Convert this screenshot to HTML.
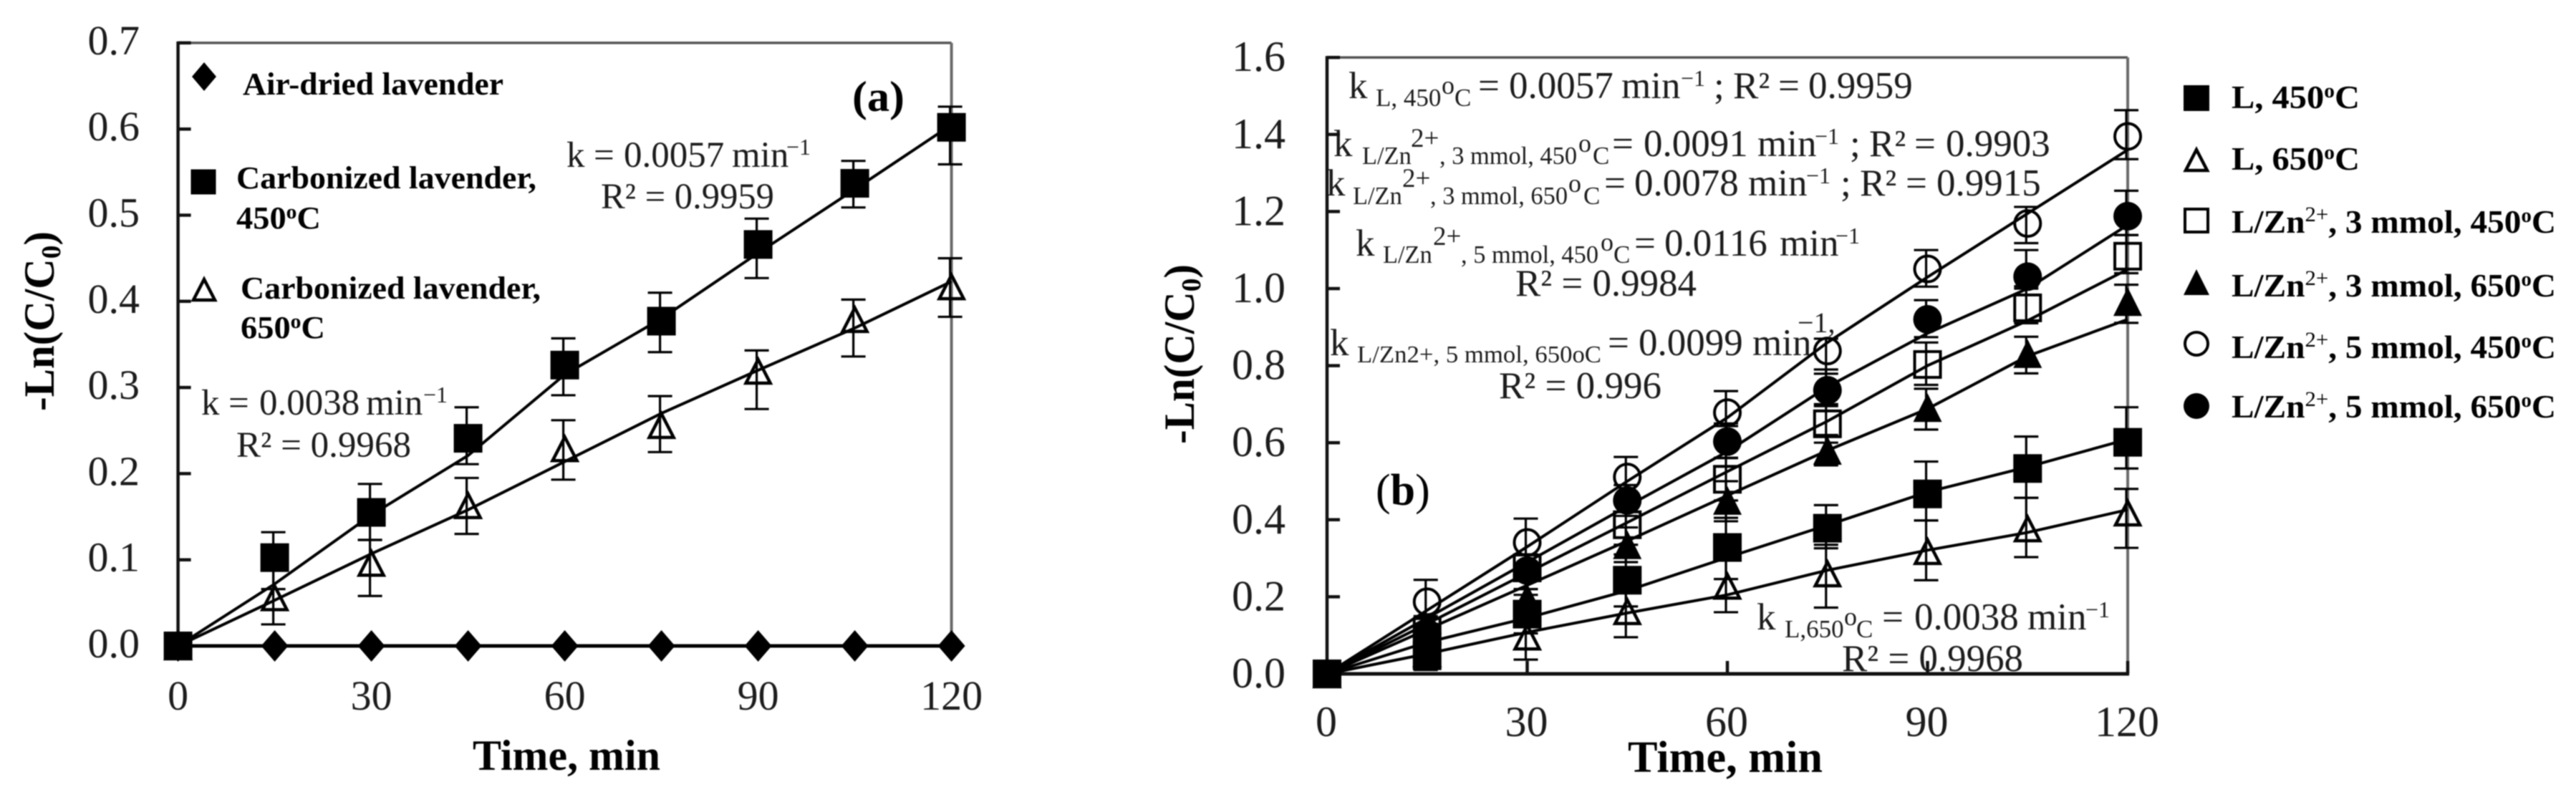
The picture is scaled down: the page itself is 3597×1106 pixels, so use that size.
<!DOCTYPE html>
<html lang="en">
<head>
<meta charset="utf-8">
<title>Kinetic plots of -Ln(C/C0) versus time</title>
<style>
html,body{margin:0;padding:0;background:#fff;width:3597px;height:1106px;overflow:hidden}
svg{display:block;filter:blur(0.9px)}
text{font-family:"Liberation Serif","Times New Roman",serif;fill:#1c1c1c;white-space:pre}
.b{font-weight:bold;fill:#000}
.s{font-size:34px}
.o{font-size:36px}
.c{font-size:35px}
.t{font-size:34.4px}
.u{font-size:37px}
.x{font-size:32px}
</style>
</head>
<body>
<svg id="figure" xmlns="http://www.w3.org/2000/svg" width="3597" height="1106" viewBox="0 0 3597 1106">
<rect x="0" y="0" width="3597" height="1106" fill="#fff"/>

<g>
  <text class="b" font-size="60" transform="translate(75,574) rotate(-90)" textLength="251" lengthAdjust="spacingAndGlyphs">-Ln(C/C<tspan font-size="38" dy="9">0</tspan><tspan dy="-9">)</tspan></text>
  <text class="b" font-size="60" x="660" y="1075" textLength="262" lengthAdjust="spacingAndGlyphs">Time, min</text>
  <text class="b" font-size="60" x="1190" y="155" textLength="73" lengthAdjust="spacingAndGlyphs">(a)</text>
  <text class="b" font-size="44" x="339" y="132" textLength="364" lengthAdjust="spacingAndGlyphs">Air-dried lavender</text>
  <text class="b" font-size="44" x="330" y="263" textLength="419" lengthAdjust="spacingAndGlyphs">Carbonized lavender,</text>
  <text class="b" font-size="44" x="330" y="319" textLength="118" lengthAdjust="spacingAndGlyphs">450<tspan font-size="28" dy="-14">o</tspan><tspan dy="14">C</tspan></text>
  <text class="b" font-size="44" x="336" y="417" textLength="419" lengthAdjust="spacingAndGlyphs">Carbonized lavender,</text>
  <text class="b" font-size="44" x="336" y="472" textLength="118" lengthAdjust="spacingAndGlyphs">650<tspan font-size="28" dy="-14">o</tspan><tspan dy="14">C</tspan></text>
  <text font-size="51" x="791" y="233">k<tspan x="829">=</tspan><tspan x="871">0.0057</tspan><tspan x="1022">min</tspan><tspan class="x" x="1098" y="216">−1</tspan></text>
  <text font-size="51" x="839" y="291" textLength="242" lengthAdjust="spacingAndGlyphs">R² = 0.9959</text>
  <text font-size="51" x="281" y="579">k<tspan x="319">=</tspan><tspan x="362">0.0038</tspan><tspan x="511">min</tspan><tspan class="x" x="591" y="562">−1</tspan></text>
  <text font-size="51" x="330" y="638" textLength="244" lengthAdjust="spacingAndGlyphs">R² = 0.9968</text>
</g>

<g>
  <text class="b" font-size="60" transform="translate(1667,620) rotate(-90)" textLength="251" lengthAdjust="spacingAndGlyphs">-Ln(C/C<tspan font-size="38" dy="9">0</tspan><tspan dy="-9">)</tspan></text>
  <text class="b" font-size="62" x="2273" y="1078" textLength="272" lengthAdjust="spacingAndGlyphs">Time, min</text>
  <text class="b" font-size="62" x="1921" y="705"><tspan font-weight="normal">(</tspan>b<tspan font-weight="normal">)</tspan></text>

  <text font-size="53" x="1883" y="137">k<tspan class="c" x="1921" y="148">L, 450</tspan><tspan class="o" x="2013" y="131">o</tspan><tspan class="c" x="2031" y="148">C</tspan><tspan x="2064" y="137">=</tspan><tspan x="2107">0.0057</tspan><tspan x="2264">min</tspan><tspan class="x" x="2347" y="120">−1</tspan><tspan x="2393" y="137">;</tspan><tspan x="2420">R²</tspan><tspan x="2483">=</tspan><tspan x="2525">0.9959</tspan></text>

  <text font-size="53" x="1862" y="218">k<tspan class="t" x="1902" y="229">L/Zn</tspan><tspan class="u" x="1970" y="205">2+</tspan><tspan class="t" x="2010" y="229">, 3 mmol, 450</tspan><tspan class="o" x="2204" y="212">o</tspan><tspan class="c" x="2224" y="229">C</tspan><tspan x="2251" y="218">=</tspan><tspan x="2295">0.0091</tspan><tspan x="2454">min</tspan><tspan class="x" x="2534" y="201">−1</tspan><tspan x="2583" y="218">;</tspan><tspan x="2610">R²</tspan><tspan x="2673">=</tspan><tspan x="2717">0.9903</tspan></text>

  <text font-size="53" x="1852" y="273">k<tspan class="t" x="1889" y="285">L/Zn</tspan><tspan class="u" x="1958" y="261">2+</tspan><tspan class="t" x="1997" y="285">, 3 mmol, 650</tspan><tspan class="o" x="2190" y="268">o</tspan><tspan class="c" x="2211" y="285">C</tspan><tspan x="2240" y="273">=</tspan><tspan x="2282">0.0078</tspan><tspan x="2441">min</tspan><tspan class="x" x="2522" y="256">−1</tspan><tspan x="2570" y="273">;</tspan><tspan x="2597">R²</tspan><tspan x="2661">=</tspan><tspan x="2704">0.9915</tspan></text>

  <text font-size="53" x="1893" y="357">k<tspan class="t" x="1931" y="367">L/Zn</tspan><tspan class="u" x="2001" y="342">2+</tspan><tspan class="t" x="2040" y="367">, 5 mmol, 450</tspan><tspan class="o" x="2235" y="350">o</tspan><tspan class="c" x="2253" y="367">C</tspan><tspan x="2282" y="357">=</tspan><tspan x="2324">0.0116</tspan><tspan x="2485">min</tspan><tspan class="x" x="2563" y="340">−1</tspan></text>
  <text font-size="53" x="2116" y="413" textLength="253" lengthAdjust="spacingAndGlyphs">R² = 0.9984</text>

  <text font-size="53" x="1857" y="496">k<tspan class="s" x="1895" y="506" textLength="341" lengthAdjust="spacingAndGlyphs">L/Zn2+, 5 mmol, 650oC</tspan><tspan x="2245" y="496">=</tspan><tspan x="2288">0.0099</tspan><tspan x="2447">min</tspan></text>
  <text font-size="40" x="2510" y="464">−1,</text>
  <text font-size="53" x="2093" y="556" textLength="227" lengthAdjust="spacingAndGlyphs">R² = 0.996</text>

  <text font-size="53" x="2453" y="879">k<tspan class="c" x="2492" y="890">L,650</tspan><tspan class="o" x="2575" y="873">o</tspan><tspan class="c" x="2592" y="890">C</tspan><tspan x="2628" y="879">=</tspan><tspan x="2673">0.0038</tspan><tspan x="2831">min</tspan><tspan class="x" x="2912" y="862">−1</tspan></text>
  <text font-size="53" x="2572" y="937" textLength="253" lengthAdjust="spacingAndGlyphs">R² = 0.9968</text>

  <text class="b" font-size="46" x="3116" y="151" textLength="179" lengthAdjust="spacingAndGlyphs">L, 450<tspan font-size="28" dy="-15">o</tspan><tspan dy="15">C</tspan></text>
  <text class="b" font-size="46" x="3116" y="237" textLength="179" lengthAdjust="spacingAndGlyphs">L, 650<tspan font-size="28" dy="-15">o</tspan><tspan dy="15">C</tspan></text>
  <text class="b" font-size="46" x="3116" y="325" textLength="453" lengthAdjust="spacingAndGlyphs">L/Zn<tspan font-size="30" dy="-16" font-weight="normal">2+</tspan><tspan dy="16">, 3 mmol, 450</tspan><tspan font-size="28" dy="-15">o</tspan><tspan dy="15">C</tspan></text>
  <text class="b" font-size="46" x="3116" y="414" textLength="453" lengthAdjust="spacingAndGlyphs">L/Zn<tspan font-size="30" dy="-16" font-weight="normal">2+</tspan><tspan dy="16">, 3 mmol, 650</tspan><tspan font-size="28" dy="-15">o</tspan><tspan dy="15">C</tspan></text>
  <text class="b" font-size="46" x="3116" y="500" textLength="453" lengthAdjust="spacingAndGlyphs">L/Zn<tspan font-size="30" dy="-16" font-weight="normal">2+</tspan><tspan dy="16">, 5 mmol, 450</tspan><tspan font-size="28" dy="-15">o</tspan><tspan dy="15">C</tspan></text>
  <text class="b" font-size="46" x="3116" y="583" textLength="453" lengthAdjust="spacingAndGlyphs">L/Zn<tspan font-size="30" dy="-16" font-weight="normal">2+</tspan><tspan dy="16">, 5 mmol, 650</tspan><tspan font-size="28" dy="-15">o</tspan><tspan dy="15">C</tspan></text>
</g>

<g id="chart-a"></g>
<g id="chart-b"></g>
<g id="legend-a"></g>
<g id="legend-b"></g>
</svg>

<script>
/* shared categories */
const times = [0, 15, 30, 45, 60, 75, 90, 105, 120];
const xTickValues = [0, 30, 60, 90, 120];

/* chart (a) */
const yTicksA = [0, 0.1, 0.2, 0.3, 0.4, 0.5, 0.6, 0.7];
const airDried = [0, 0, 0, 0, 0, 0, 0, 0, 0];
const a450 = [0, 0.1025, 0.155, 0.241, 0.326, 0.377, 0.466, 0.537, 0.602];
const a450Upper = [0, 0.132, 0.188, 0.277, 0.357, 0.41, 0.496, 0.563, 0.626];
const a450Lower = [0, 0.066, 0.123, 0.211, 0.291, 0.341, 0.427, 0.509, 0.559];
const a450Fit = [0, 0.072, 0.152, 0.221, 0.315, 0.38, 0.456, 0.53, 0.605];
const a650 = [0, 0.057, 0.097, 0.164, 0.23, 0.257, 0.32, 0.38, 0.418];
const a650Upper = [0, 0.09, 0.123, 0.195, 0.262, 0.29, 0.343, 0.402, 0.45];
const a650Lower = [0, 0.025, 0.058, 0.13, 0.193, 0.225, 0.275, 0.336, 0.382];
const a650Fit = [0, 0.053, 0.107, 0.158, 0.214, 0.27, 0.32, 0.369, 0.423];

/* chart (b) */
const yTicksB = [0, 0.2, 0.4, 0.6, 0.8, 1.0, 1.2, 1.4, 1.6];
const b450 = [0, 0.047, 0.155, 0.243, 0.328, 0.378, 0.467, 0.533, 0.601];
const b450Upper = [0, 0.1, 0.205, 0.31, 0.405, 0.438, 0.551, 0.616, 0.692];
const b450Lower = [0, 0.01, 0.105, 0.175, 0.246, 0.326, 0.398, 0.457, 0.533];
const b450Fit = [0, 0.082, 0.145, 0.216, 0.302, 0.386, 0.472, 0.537, 0.609];
const b650 = [0, 0.055, 0.098, 0.164, 0.23, 0.262, 0.32, 0.379, 0.42];
const b650Upper = [0, 0.085, 0.15, 0.235, 0.31, 0.335, 0.398, 0.457, 0.48];
const b650Lower = [0, 0.03, 0.037, 0.095, 0.16, 0.172, 0.243, 0.303, 0.327];
const b650Fit = [0, 0.052, 0.108, 0.158, 0.205, 0.269, 0.321, 0.367, 0.426];
const b3m450 = [0, 0.11, 0.275, 0.387, 0.505, 0.649, 0.803, 0.95, 1.084];
const b3m450Upper = [0, 0.15, 0.31, 0.44, 0.56, 0.7, 0.86, 1.0, 1.139];
const b3m450Lower = [0, 0.09, 0.22, 0.335, 0.45, 0.6, 0.75, 0.91, 1.04];
const b3m450Fit = [0, 0.13, 0.262, 0.393, 0.525, 0.656, 0.8, 0.917, 1.05];
const b3m650 = [0, 0.085, 0.197, 0.335, 0.45, 0.58, 0.691, 0.831, 0.966];
const b3m650Upper = [0, 0.12, 0.26, 0.38, 0.5, 0.62, 0.74, 0.875, 1.01];
const b3m650Lower = [0, 0.05, 0.17, 0.29, 0.396, 0.541, 0.634, 0.78, 0.911];
const b3m650Fit = [0, 0.115, 0.23, 0.345, 0.463, 0.58, 0.688, 0.825, 0.92];
const b5m450 = [0, 0.187, 0.341, 0.511, 0.678, 0.838, 1.051, 1.169, 1.395];
const b5m450Upper = [0, 0.244, 0.403, 0.563, 0.734, 0.87, 1.1, 1.212, 1.463];
const b5m450Lower = [0, 0.13, 0.28, 0.46, 0.643, 0.779, 1.005, 1.118, 1.336];
const b5m450Fit = [0, 0.165, 0.33, 0.5, 0.665, 0.86, 1.03, 1.195, 1.36];
const b5m650 = [0, 0.105, 0.268, 0.45, 0.603, 0.736, 0.92, 1.031, 1.188];
const b5m650Upper = [0, 0.145, 0.31, 0.49, 0.65, 0.79, 0.97, 1.1, 1.254];
const b5m650Lower = [0, 0.07, 0.22, 0.41, 0.561, 0.695, 0.874, 1.006, 1.139];
const b5m650Fit = [0, 0.145, 0.29, 0.435, 0.577, 0.745, 0.884, 1.0, 1.165];

const NS = 'http://www.w3.org/2000/svg';

function make(parent, tag, attrs) {
  const e = document.createElementNS(NS, tag);
  for (const k in attrs) e.setAttribute(k, attrs[k]);
  parent.appendChild(e);
  return e;
}

/* axis functions */
const axA = t => 248.6 + t * 9.0;
const ayA = v => 902 - v * 1203;
const axB = t => 1853 + t * 9.317;
const ayB = v => 941 - v * 538;

function drawMarker(parent, shape, x, y, r) {
  let m;
  if (shape === 'square') {
    m = make(parent, 'rect', {x: x - r, y: y - r, width: 2 * r, height: 2 * r, fill: '#000'});
  } else if (shape === 'open-square') {
    m = make(parent, 'rect', {x: x - r + 2, y: y - r + 2, width: 2 * r - 4, height: 2 * r - 4, fill: 'none', stroke: '#000', 'stroke-width': 4});
  } else if (shape === 'circle') {
    m = make(parent, 'circle', {cx: x, cy: y, r: r, fill: '#000'});
  } else if (shape === 'open-circle') {
    m = make(parent, 'circle', {cx: x, cy: y, r: r - 2, fill: 'none', stroke: '#000', 'stroke-width': 4});
  } else if (shape === 'triangle') {
    m = make(parent, 'polygon', {points: (x) + ',' + (y - r) + ' ' + (x + r) + ',' + (y + r) + ' ' + (x - r) + ',' + (y + r), fill: '#000'});
  } else if (shape === 'open-triangle') {
    m = make(parent, 'polygon', {points: (x) + ',' + (y - r + 5) + ' ' + (x + r - 3) + ',' + (y + r - 2) + ' ' + (x - r + 3) + ',' + (y + r - 2), fill: 'none', stroke: '#000', 'stroke-width': 4.5});
  } else {
    m = make(parent, 'polygon', {points: x + ',' + (y - r - 2) + ' ' + (x + r - 1) + ',' + y + ' ' + x + ',' + (y + r + 2) + ' ' + (x - r + 1) + ',' + y, fill: '#000'});
  }
  return m;
}

function drawAxes(root, ax, ay, yTicks, xMaxT, yMax, yLabelX, yLabelDy, xLabelBase, xLabelShift, labelSize) {
  const left = ax(0), right = ax(xMaxT), top = ay(yMax), bottom = ay(0);
  const frameTop = make(root, 'line', {x1: left, y1: top, x2: right, y2: top, stroke: '#555', 'stroke-width': 3.5});
  
  
  const frameRight = make(root, 'line', {x1: right, y1: top, x2: right, y2: bottom, stroke: '#6a6a6a', 'stroke-width': 4});
  
  
  const yAxis = make(root, 'line', {x1: left, y1: top - 2, x2: left, y2: bottom, stroke: '#111', 'stroke-width': 4.5});
  
  
  const xAxis = make(root, 'line', {x1: left, y1: bottom, x2: right + 2, y2: bottom, stroke: '#111', 'stroke-width': 5});
  
  
  yTicks.forEach(function (v) {
    const tick = make(root, 'line', {x1: left, y1: ay(v), x2: left + 18, y2: ay(v), stroke: '#111', 'stroke-width': 4.5});
    
    
    const label = make(root, 'text', {x: yLabelX, y: ay(v) + yLabelDy, 'text-anchor': 'end', 'font-size': labelSize});
    
    
    label.textContent = v.toFixed(1);
  });
  xTickValues.forEach(function (t) {
    const tick = make(root, 'line', {x1: ax(t), y1: bottom, x2: ax(t), y2: bottom - 18, stroke: '#111', 'stroke-width': 4.5});
    
    
    const label = make(root, 'text', {x: ax(t) + xLabelShift, y: xLabelBase, 'text-anchor': 'middle', 'font-size': labelSize});
    
    
    label.textContent = String(t);
  });
}

function fitPath(ax, ay, fit) {
  return fit.map(function (v, i) { return (i ? 'L' : 'M') + ax(times[i]).toFixed(1) + ' ' + ay(v).toFixed(1); }).join(' ');
}

function drawLinesAndErrors(root, ax, ay, fit, upper, lower) {
  const g = make(root, 'g', {});
  
  
  const path = make(g, 'path', {d: fitPath(ax, ay, fit), fill: 'none', stroke: '#000', 'stroke-width': 4});
  
  
  if (!upper) return;
  times.forEach(function (t, i) {
    if (t === 0) return;
    const x = ax(t) - 2;
    const d = 'M' + x + ' ' + ay(upper[i]) + ' V' + ay(lower[i]) +
      ' M' + (x - 17) + ' ' + ay(upper[i]) + ' H' + (x + 17) +
      ' M' + (x - 17) + ' ' + ay(lower[i]) + ' H' + (x + 17);
    const bar = make(g, 'path', {d: d, fill: 'none', stroke: '#000', 'stroke-width': 3.2});
    
    
  });
}

function drawMarkers(root, ax, ay, values, shape, r) {
  const g = make(root, 'g', {});
  
  
  values.forEach(function (v, i) {
    const m = drawMarker(g, shape, ax(times[i]), ay(v), r);
    
    
  });
}

/* ----- chart (a) ----- */
const rootA = document.getElementById('chart-a');
drawAxes(rootA, axA, ayA, yTicksA, 120, 0.7, 195, 16, 991, 0, 58);
drawLinesAndErrors(rootA, axA, ayA, airDried, null, null);
drawLinesAndErrors(rootA, axA, ayA, a650Fit, a650Upper, a650Lower);
drawLinesAndErrors(rootA, axA, ayA, a450Fit, a450Upper, a450Lower);
drawMarkers(rootA, axA, ayA, airDried, 'diamond', 20);
drawMarkers(rootA, axA, ayA, a650, 'open-triangle', 20);
drawMarkers(rootA, axA, ayA, a450, 'square', 20);

/* ----- chart (b) ----- */
const rootB = document.getElementById('chart-b');
drawAxes(rootB, axB, ayB, yTicksB, 120, 1.6, 1795, 19, 1028, -1, 60);
const seriesFits = [
  [b650Fit, b650Upper, b650Lower],
  [b450Fit, b450Upper, b450Lower],
  [b3m450Fit, b3m450Upper, b3m450Lower],
  [b3m650Fit, b3m650Upper, b3m650Lower],
  [b5m450Fit, b5m450Upper, b5m450Lower],
  [b5m650Fit, b5m650Upper, b5m650Lower]
];
seriesFits.forEach(function (s) { drawLinesAndErrors(rootB, axB, ayB, s[0], s[1], s[2]); });
drawMarkers(rootB, axB, ayB, b650, 'open-triangle', 20);
drawMarkers(rootB, axB, ayB, b3m450, 'open-square', 20);
drawMarkers(rootB, axB, ayB, b5m450, 'open-circle', 20);
drawMarkers(rootB, axB, ayB, b3m650, 'triangle', 20);
drawMarkers(rootB, axB, ayB, b5m650, 'circle', 20);
drawMarkers(rootB, axB, ayB, b450, 'square', 20);

/* ----- legend markers ----- */
const legendA = document.getElementById('legend-a');
const keyDiamond = drawMarker(legendA, 'diamond', 285, 107, 18);


const keySquare = drawMarker(legendA, 'square', 284, 254, 17.5);


const keyTriangle = drawMarker(legendA, 'open-triangle', 285, 403, 18);



const legendB = document.getElementById('legend-b');
const k1 = drawMarker(legendB, 'square', 3067, 137, 18);


const k2 = drawMarker(legendB, 'open-triangle', 3067, 222, 18);


const k3 = drawMarker(legendB, 'open-square', 3067, 308, 18);


const k4 = drawMarker(legendB, 'triangle', 3067, 394, 18);


const k5 = drawMarker(legendB, 'open-circle', 3067, 480, 18);


const k6 = drawMarker(legendB, 'circle', 3067, 567, 18);


</script>
</body>
</html>
